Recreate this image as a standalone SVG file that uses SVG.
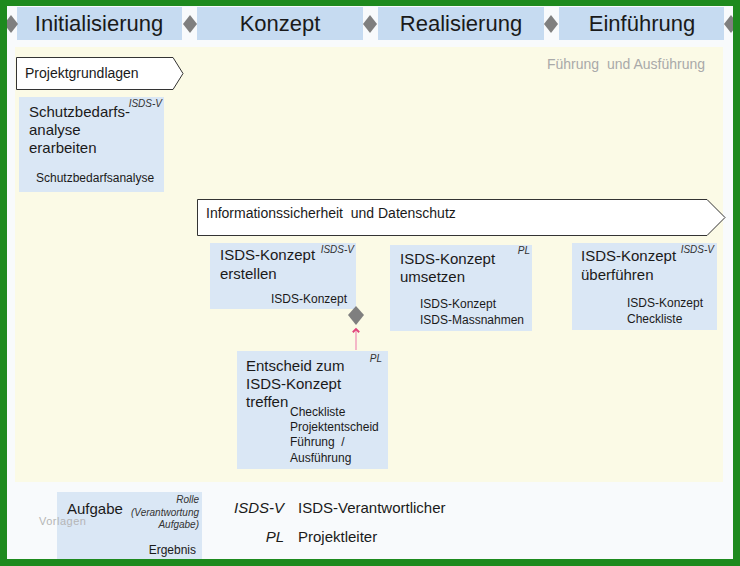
<svg xmlns="http://www.w3.org/2000/svg" width="740" height="566" viewBox="0 0 740 566">
<defs>
<style>
text{font-family:"Liberation Sans",Arial,sans-serif;fill:#1a1a1a;white-space:pre}
.ph{fill:#c6dbf1}
.task{fill:#dae7f5}
.dia{fill:#7f7f7f}
.h{font-size:22px;text-anchor:middle}
.t{font-size:15px}
.r{font-size:10px;font-style:italic;text-anchor:end;fill:#333}
.o{font-size:12px}
.lane{fill:#fff;stroke:#333;stroke-width:1}
</style>
<marker id="ah" viewBox="0 0 10 10" refX="7" refY="5" markerWidth="8" markerHeight="8" markerUnits="userSpaceOnUse" orient="auto">
<path d="M3,1 L7,5 L3,9" fill="none" stroke="#e0457b" stroke-width="2.4"/>
</marker>
</defs>
<rect x="0" y="0" width="740" height="566" fill="#1e8a1e"/>
<rect x="7" y="6" width="726" height="553" fill="#f8fafc"/>
<rect x="15" y="47" width="708" height="435" fill="#fbfae6"/>

<g id="phases">
<g id="phase-init"><rect class="ph" x="17" y="7" width="165" height="33"/><text class="h" x="99" y="31">Initialisierung</text></g>
<g id="phase-konzept"><rect class="ph" x="197" y="7" width="166" height="33"/><text class="h" x="280" y="31">Konzept</text></g>
<g id="phase-real"><rect class="ph" x="378" y="7" width="166" height="33"/><text class="h" x="461" y="31">Realisierung</text></g>
<g id="phase-einf"><rect class="ph" x="559" y="7" width="165" height="33"/><text class="h" x="642" y="31">Einführung</text></g>
<path class="dia" d="M11,15 L18,24 L11,33 L4,24 Z"/>
<path class="dia" d="M190,15 L197,24 L190,33 L183,24 Z"/>
<path class="dia" d="M370,15 L377,24 L370,33 L363,24 Z"/>
<path class="dia" d="M551,15 L558,24 L551,33 L544,24 Z"/>
<path class="dia" d="M731,15 L738,24 L731,33 L724,24 Z"/>
</g>
<rect x="733" y="0" width="7" height="566" fill="#1e8a1e"/>
<rect x="0" y="0" width="7" height="566" fill="#1e8a1e"/>

<text x="547" y="69" style="font-size:14px;fill:#a9a9a9">Führung  und Ausführung</text>

<g id="lane-projekt">
<path class="lane" d="M16.5,57.5 L173,57.5 L183,73.5 L173,89.5 L16.5,89.5 Z"/>
<text x="25" y="78" style="font-size:14px">Projektgrundlagen</text>
</g>

<g id="task-schutzbedarf">
<rect class="task" x="19" y="97" width="145" height="95"/>
<text class="t" x="29" y="117">Schutzbedarfs-</text>
<text class="t" x="29" y="135">analyse</text>
<text class="t" x="29" y="153">erarbeiten</text>
<text class="r" x="162" y="107">ISDS-V</text>
<text class="o" x="36" y="182">Schutzbedarfsanalyse</text>
</g>

<g id="lane-isds">
<path class="lane" d="M197.5,199.5 L707,199.5 L725,217.5 L707,235.5 L197.5,235.5 Z"/>
<text x="206" y="218" style="font-size:14px">Informationssicherheit  und Datenschutz</text>
</g>

<g id="task-erstellen">
<rect class="task" x="210" y="243" width="146" height="66"/>
<text class="t" x="220" y="260">ISDS-Konzept</text>
<text class="t" x="220" y="279">erstellen</text>
<text class="r" x="354" y="253">ISDS-V</text>
<text class="o" x="347" y="303" text-anchor="end">ISDS-Konzept</text>
</g>

<g id="task-umsetzen">
<rect class="task" x="390" y="245" width="142" height="86"/>
<text class="t" x="400" y="264">ISDS-Konzept</text>
<text class="t" x="400" y="282">umsetzen</text>
<text class="r" x="530" y="254">PL</text>
<text class="o" x="420" y="308">ISDS-Konzept</text>
<text class="o" x="420" y="324">ISDS-Massnahmen</text>
</g>

<g id="task-ueberfuehren">
<rect class="task" x="572" y="243" width="145" height="87"/>
<text class="t" x="581" y="261">ISDS-Konzept</text>
<text class="t" x="581" y="280">überführen</text>
<text class="r" x="714" y="253">ISDS-V</text>
<text class="o" x="627" y="307">ISDS-Konzept</text>
<text class="o" x="627" y="323">Checkliste</text>
</g>

<g id="task-entscheid">
<rect class="task" x="237" y="351" width="151" height="118"/>
<text class="t" x="246" y="371">Entscheid zum</text>
<text class="t" x="246" y="389">ISDS-Konzept</text>
<text class="t" x="246" y="407">treffen</text>
<text class="r" x="382" y="362">PL</text>
<text class="o" x="290" y="416">Checkliste</text>
<text class="o" x="290" y="431">Projektentscheid</text>
<text class="o" x="290" y="446">Führung  /</text>
<text class="o" x="290" y="462">Ausführung</text>
</g>

<g id="gate">
<path class="dia" d="M356,306 L364,315 L356,325 L348,315 Z"/>
</g>

<g id="connectors">
<line x1="356" y1="350" x2="356" y2="329" stroke="#f2a0bd" stroke-width="1.5" marker-end="url(#ah)"/>
</g>

<g id="legend">
<rect class="task" x="57" y="492" width="145" height="67"/>
<text x="39" y="525" style="font-size:11px;fill:#b5b5b5;letter-spacing:0.5px">Vorlagen</text>
<text class="t" x="67" y="514">Aufgabe</text>
<text class="r" x="199" y="503">Rolle</text>
<text class="r" x="199" y="516">(Verantwortung</text>
<text class="r" x="199" y="528">Aufgabe)</text>
<text class="o" x="196" y="554" text-anchor="end">Ergebnis</text>
<text class="t" x="284" y="513" text-anchor="end" font-style="italic">ISDS-V</text>
<text class="t" x="298" y="513">ISDS-Verantwortlicher</text>
<text class="t" x="284" y="542" text-anchor="end" font-style="italic">PL</text>
<text class="t" x="298" y="542">Projektleiter</text>
</g>
</svg>
